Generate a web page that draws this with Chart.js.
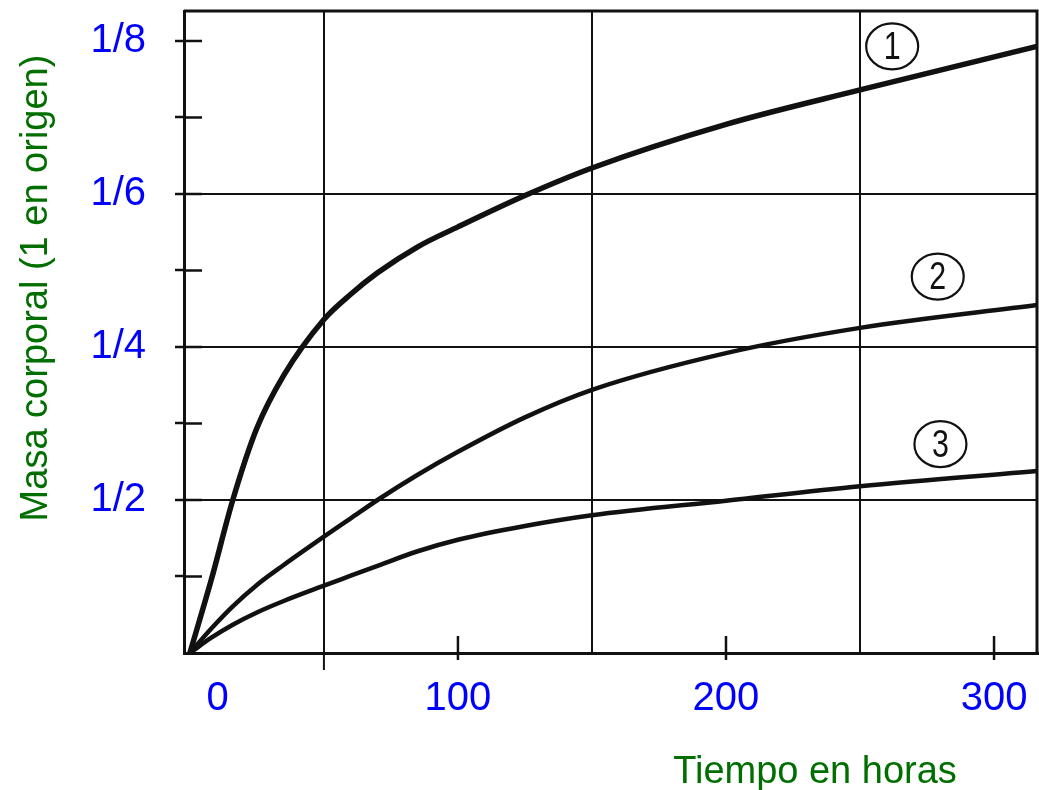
<!DOCTYPE html>
<html>
<head>
<meta charset="utf-8">
<script src="https://cdn.jsdelivr.net/npm/chart.js@4.4.1/dist/chart.umd.min.js"></script>
<style>
  html, body { margin: 0; padding: 0; background: #fff; }
  #wrap { width: 1039px; height: 790px; position: relative; }
</style>
</head>
<body>
<div id="wrap"><canvas id="grafico"></canvas></div>
<script>
// horas y masa
const horas = [0, 8, 16, 25, 35, 50, 60, 70, 85, 100, 125, 150, 200, 250, 316];
const curva1 = [0, 0.96, 2.0, 2.94, 3.63, 4.36, 4.69, 4.97, 5.31, 5.57, 5.98, 6.34, 6.91, 7.36, 7.93];
const curva2 = [0, 0.32, 0.61, 0.89, 1.15, 1.52, 1.76, 2.0, 2.33, 2.63, 3.08, 3.44, 3.92, 4.25, 4.55];
const curva3 = [0, 0.2, 0.37, 0.53, 0.68, 0.88, 1.01, 1.14, 1.33, 1.48, 1.66, 1.8, 1.99, 2.18, 2.38];

const xTicks = [0, 50, 100, 150, 200, 250, 300];
const xLabelValues = [0, 100, 200, 300];
const xGridValues = [50, 150, 250];
const yTicks = [1, 2, 3, 4, 5, 6, 7, 8];
const yLabelValues = [2, 4, 6, 8];
const yLabelText = ['1/2', '1/4', '1/6', '1/8'];
const yGridValues = [2, 4, 6];

const etiquetas = ['1', '2', '3'];
const etiquetaX = [262, 279, 280];
const etiquetaY = [7.93, 4.92, 2.73];

const NEGRO = '#111';
const AZUL = '#0000ff';
const VERDE = '#006f00';

function puntos(ys) {
  return horas.map((h, i) => ({ x: h, y: ys[i] }));
}

function sinPadding(s) {
  s.paddingLeft = 0; s.paddingRight = 0; s.paddingTop = 0; s.paddingBottom = 0;
}

const marco = {
  id: 'marco',
  afterDraw(chart) {
    const ctx = chart.ctx;
    const a = chart.chartArea;
    const sx = chart.scales.x, sy = chart.scales.y;
    ctx.save();
    ctx.strokeStyle = NEGRO;
    ctx.lineCap = 'butt';
    // borde superior y derecho
    ctx.lineWidth = 3;
    ctx.beginPath();
    ctx.moveTo(a.left, a.top); ctx.lineTo(a.right - 1, a.top); ctx.lineTo(a.right - 1, a.bottom);
    ctx.stroke();
    // marcas interiores eje y
    ctx.lineWidth = 2.5;
    yTicks.forEach(v => {
      const y = sy.getPixelForValue(v);
      ctx.beginPath(); ctx.moveTo(a.left, y); ctx.lineTo(a.left + 18, y); ctx.stroke();
    });
    // marcas eje x
    [100, 200, 300].forEach(v => {
      const x = sx.getPixelForValue(v);
      ctx.beginPath(); ctx.moveTo(x, a.bottom - 17); ctx.lineTo(x, a.bottom + 7); ctx.stroke();
    });
    const x50 = sx.getPixelForValue(50);
    ctx.lineWidth = 2;
    ctx.beginPath(); ctx.moveTo(x50, a.bottom); ctx.lineTo(x50, a.bottom + 17); ctx.stroke();

    // números en círculo
    ctx.lineWidth = 2.2;
    ctx.textAlign = 'center';
    ctx.textBaseline = 'middle';
    etiquetas.forEach((t, i) => {
      const cx = sx.getPixelForValue(etiquetaX[i]);
      const cy = sy.getPixelForValue(etiquetaY[i]);
      ctx.fillStyle = '#fff';
      ctx.beginPath(); ctx.ellipse(cx, cy, 26, 23, 0, 0, Math.PI * 2); ctx.fill(); ctx.stroke();
      ctx.save();
      ctx.translate(cx, cy + 2);
      ctx.scale(0.8, 1);
      ctx.fillStyle = NEGRO;
      ctx.font = '38px "Liberation Sans", Arial, sans-serif';
      ctx.fillText(t, 0, 0);
      ctx.restore();
    });

    // títulos de los ejes
    ctx.fillStyle = VERDE;
    ctx.font = '38px "Liberation Sans", Arial, sans-serif';
    ctx.textAlign = 'center';
    ctx.textBaseline = 'alphabetic';
    ctx.fillText('Tiempo en horas', 815, 783);
    ctx.translate(47, 288);
    ctx.rotate(-Math.PI / 2);
    ctx.fillText('Masa corporal (1 en origen)', 0, 0);
    ctx.restore();
  }
};

new Chart(document.getElementById('grafico'), {
  type: 'line',
  data: {
    datasets: [
      { label: '1', data: puntos(curva1), borderColor: NEGRO, borderWidth: 5.5 },
      { label: '2', data: puntos(curva2), borderColor: NEGRO, borderWidth: 4.5 },
      { label: '3', data: puntos(curva3), borderColor: NEGRO, borderWidth: 4.5 }
    ]
  },
  options: {
    responsive: true,
    maintainAspectRatio: false,
    animation: false,
    events: [],
    elements: {
      point: { radius: 0 },
      line: { cubicInterpolationMode: 'monotone', fill: false }
    },
    layout: { padding: { top: 11, right: 1, left: 0, bottom: 0 } },
    plugins: { legend: { display: false }, tooltip: { enabled: false } },
    scales: {
      x: {
        type: 'linear',
        min: -2.2,
        max: 316.4,
        afterBuildTicks: s => { s.ticks = xTicks.map(v => ({ value: v })); },
        afterFit: s => { s.height = 137; sinPadding(s); },
        border: { display: true, color: NEGRO, width: 3 },
        grid: {
          drawTicks: false,
          lineWidth: 2,
          color: c => xGridValues.includes(c.tick.value) ? NEGRO : 'rgba(0,0,0,0)'
        },
        ticks: {
          autoSkip: false,
          maxRotation: 0,
          padding: 22,
          color: AZUL,
          font: { family: '"Liberation Sans", Arial, sans-serif', size: 40 },
          callback: v => xLabelValues.includes(v) ? (v === 0 ? '     0' : String(v)) : ''
        }
      },
      y: {
        min: 0,
        max: 8.392,
        afterBuildTicks: s => { s.ticks = yTicks.map(v => ({ value: v })); },
        afterFit: s => { s.width = 184; sinPadding(s); },
        border: { display: true, color: NEGRO, width: 3 },
        grid: {
          drawTicks: true,
          tickLength: 9,
          tickWidth: 2.5,
          tickColor: NEGRO,
          lineWidth: 2,
          color: c => yGridValues.includes(c.tick.value) ? NEGRO : 'rgba(0,0,0,0)'
        },
        ticks: {
          padding: 29,
          color: AZUL,
          font: { family: '"Liberation Sans", Arial, sans-serif', size: 40 },
          callback: v => {
            const i = yLabelValues.indexOf(v);
            return i >= 0 ? yLabelText[i] : '';
          }
        }
      }
    }
  },
  plugins: [marco]
});
</script>
</body>
</html>
